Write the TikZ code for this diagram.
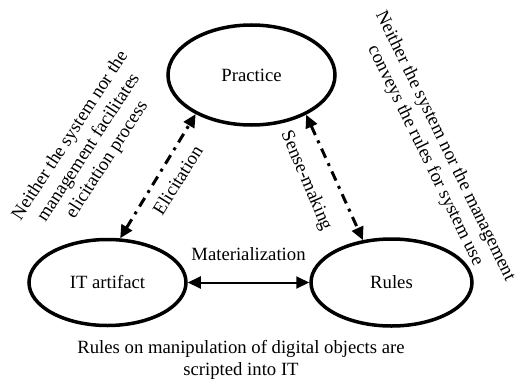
\documentclass[tikz,border=0pt]{standalone}
\usepackage{fontspec}
\setmainfont{Liberation Serif}
\usetikzlibrary{arrows.meta,shapes.geometric}

\begin{document}
\begin{tikzpicture}[
  x=1bp, y=1bp,
  txt/.style={font=\fontsize{18.7bp}{22bp}\selectfont, inner sep=1pt},
  ell/.style={draw, ellipse, line width=3.5bp, txt},
  arr/.style={{Triangle[length=13bp,width=12bp]}-{Triangle[length=13bp,width=12bp]}, line width=2bp},
  dd/.style={arr, line width=3bp, dash pattern=on 10bp off 6bp on 3bp off 6bp},
  note/.style={txt, align=center}
]
  \useasboundingbox (0,0) rectangle (516,379);

  % the three concepts
  \node[ell, minimum width=167bp, minimum height=100bp] (prac) at (251.5,304) {Practice};
  \node[ell, minimum width=157bp, minimum height=86bp] (itart) at (107.5,96.5) {IT artifact};
  \node[ell, minimum width=161bp, minimum height=87bp] (rules) at (391.5,96.5) {Rules};

  % links between them
  \draw[dd] (itart.74) -- (prac.215);
  \draw[dd] (prac.324) -- (rules.124);
  \draw[arr] (itart.east) -- node[txt, yshift=28bp] (matl) {Materialization} (rules.west);

  \node[txt, rotate=58] (elic) at (177.5,199) {Elicitation};
  \node[txt, rotate=-67] (sense) at (306,198) {Sense-making};

  % side and bottom remarks
  \node[note, rotate=57] (leftnote) at (89,231)
    {Neither the system nor the\\management facilitates\\elicitation process};
  \node[note, rotate=-64] (rightnote) at (435,228)
    {Neither the system nor the management\\conveys the rules for system use};
  \node[note] (bottom) at (241,19)
    {Rules on manipulation of digital objects are\\scripted into IT};
\end{tikzpicture}
\end{document}
